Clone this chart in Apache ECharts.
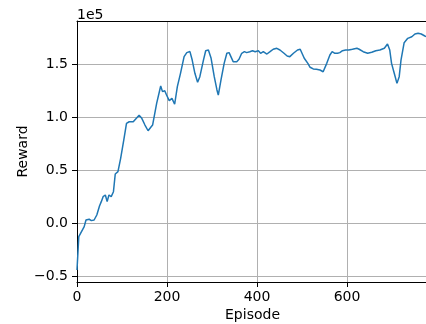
<!DOCTYPE html>
<html>
<head>
<meta charset="utf-8">
<script src="https://cdn.jsdelivr.net/npm/echarts@6/dist/echarts.min.js"></script>
<style>html,body{margin:0;padding:0;background:#fff}#c{width:426px;height:324px}</style>
</head>
<body>
<div id="c"></div>
<script>
const episodes = [0,4,10,16,20,22,27,32,38,44,50,54,58,63,67,71,76,81,85,91,97,104,110,116,125,129,138,144,151,158,164,168,177,186,190,195,199,205,211,217,223,230,238,244,251,256,262,268,273,281,286,292,298,305,311,314,320,327,333,338,342,347,355,360,366,372,377,384,390,396,403,408,414,422,429,436,444,451,460,467,473,481,490,496,505,513,518,525,532,540,547,555,562,567,573,579,584,590,597,604,612,622,627,636,646,655,664,673,683,690,695,699,705,711,716,720,727,735,744,751,758,765,773,780];
const rewards = [-44000,-12600,-7900,-3200,3100,1500,3800,2500,3100,7800,16300,20400,25100,26700,20400,26700,25100,29800,46500,48700,61300,78600,94300,95800,95800,95800,102000,99000,92700,87300,90600,92700,113200,129500,124200,125100,121000,115700,117900,112300,128900,141500,157200,161000,162000,154000,141500,133000,138300,154000,162800,163500,155700,138300,125800,121000,135200,150900,160400,161000,157200,152500,152500,154700,160400,161900,161000,161900,162800,161900,162800,160400,161900,159700,161900,164200,165100,163500,160400,157800,157200,160400,163500,164200,155700,150900,147200,145600,145300,144600,143000,150900,158800,161900,160400,160400,161000,162800,163500,163500,164200,165100,164200,161900,160400,161300,162800,163500,165100,169100,163500,150900,141500,132000,138300,154000,170400,174500,176000,178600,179200,178600,176700,175500];
const yTicks = [-50000, 0, 50000, 100000, 150000];
const xTicks = [0, 200, 400, 600];

const chart = echarts.init(document.getElementById('c'), null, {renderer: 'canvas'});
const font = 'DejaVu Sans';
const fmtY = v => {
  const s = (Math.abs(v) / 1e5).toFixed(1);
  return (v < 0 ? '\u2212' : '') + s;
};
chart.setOption({
  animation: false,
  backgroundColor: '#fff',
  textStyle: {fontFamily: font},
  grid: {left: 77, top: 21, width: 351, height: 261, containLabel: false, outerBoundsMode: 'none'},
  graphic: [{
    type: 'text', left: 77, top: 8,
    style: {text: '1e5', fontFamily: font, fontSize: 14, fill: '#000'}
  }],
  xAxis: [{
    type: 'value', min: 0, max: 780, interval: 200,
    name: 'Episode', nameLocation: 'middle', nameGap: 26, nameMoveOverlap: false,
    nameTextStyle: {fontFamily: font, fontSize: 14, color: '#000'},
    axisLine: {show: true, onZero: false, lineStyle: {color: '#000', width: 1}},
    axisTick: {show: true, inside: false, length: 5, lineStyle: {color: '#000', width: 1}},
    axisLabel: {fontFamily: font, fontSize: 14, color: '#000', margin: 8, showMaxLabel: false},
    splitLine: {show: true, lineStyle: {color: '#b0b0b0', width: 1}}
  }, {
    type: 'value', min: 0, max: 780, position: 'top',
    axisLine: {show: true, onZero: false, lineStyle: {color: '#000', width: 1}},
    axisTick: {show: false}, axisLabel: {show: false}, splitLine: {show: false}
  }],
  yAxis: {
    type: 'value', min: -55400, max: 190850,
    name: 'Reward', nameLocation: 'middle', nameGap: 47, nameRotate: 90, nameMoveOverlap: false,
    nameTextStyle: {fontFamily: font, fontSize: 14, color: '#000'},
    axisLine: {show: true, onZero: false, lineStyle: {color: '#000', width: 1}},
    axisTick: {show: true, inside: false, length: 5, customValues: yTicks, lineStyle: {color: '#000', width: 1}},
    axisLabel: {fontFamily: font, fontSize: 14, color: '#000', margin: 9, customValues: yTicks, formatter: fmtY},
    splitLine: {show: true, lineStyle: {color: '#b0b0b0', width: 1}}
  },
  series: [{
    type: 'line',
    xAxisIndex: 0,
    data: episodes.map((e, i) => [e, rewards[i]]),
    showSymbol: false, symbol: 'none',
    lineStyle: {color: '#1f77b4', width: 1.5},
    smooth: false
  }]
});
</script>
</body>
</html>
